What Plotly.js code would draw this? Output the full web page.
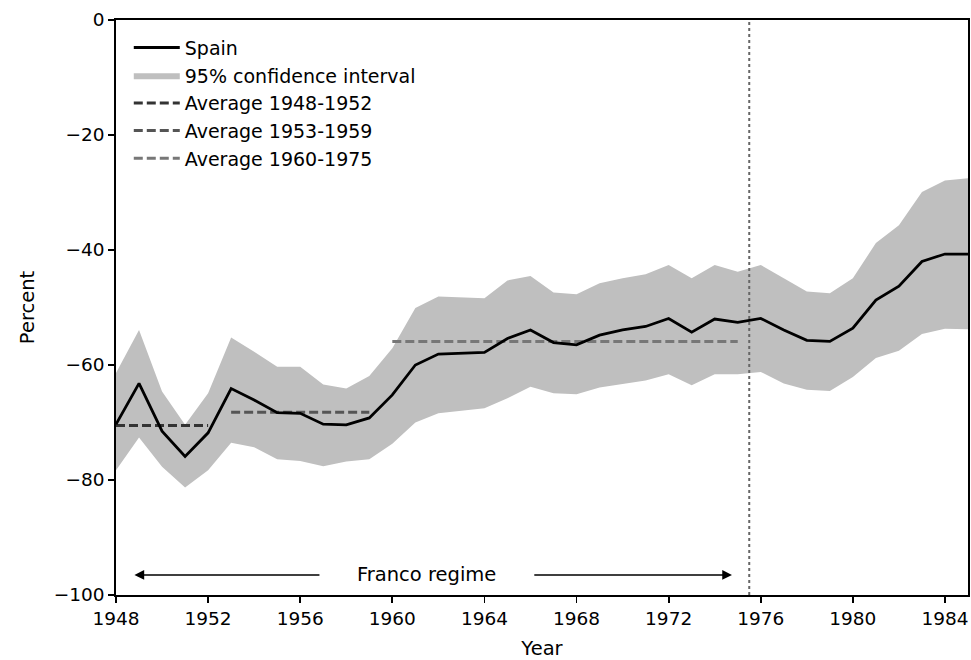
<!DOCTYPE html>
<html>
<head>
<meta charset="utf-8">
<script src="https://cdn.plot.ly/plotly-3.0.1.min.js"></script>
<style>html,body{margin:0;padding:0;background:#fff;}#chart{width:971px;height:660px;}</style>
</head>
<body>
<div id="chart"></div>
<script>
const years = [1948,1949,1950,1951,1952,1953,1954,1955,1956,1957,1958,1959,1960,1961,1962,1963,1964,1965,1966,1967,1968,1969,1970,1971,1972,1973,1974,1975,1976,1977,1978,1979,1980,1981,1982,1983,1984,1985];
const spain = [-70.3,-63.2,-71.5,-75.9,-71.8,-64.1,-66.1,-68.3,-68.4,-70.3,-70.4,-69.2,-65.2,-60.0,-58.1,-58.0,-57.8,-55.4,-53.9,-56.1,-56.5,-54.8,-53.9,-53.3,-51.9,-54.3,-52.0,-52.6,-51.9,-53.9,-55.7,-55.9,-53.6,-48.7,-46.3,-42.0,-40.7,-40.7];
const ciUpper = [-61.4,-53.9,-64.6,-70.4,-64.9,-55.2,-57.7,-60.3,-60.3,-63.4,-64.1,-61.9,-57.1,-50.1,-48.1,-48.2,-48.4,-45.3,-44.5,-47.4,-47.7,-45.8,-44.9,-44.2,-42.6,-44.9,-42.6,-43.8,-42.6,-44.9,-47.2,-47.5,-44.9,-38.8,-35.7,-29.9,-27.9,-27.5];
const ciLower = [-78.3,-72.6,-77.7,-81.3,-78.3,-73.5,-74.3,-76.4,-76.7,-77.6,-76.8,-76.4,-73.7,-70.0,-68.4,-67.9,-67.5,-65.8,-63.8,-64.9,-65.1,-63.9,-63.3,-62.7,-61.6,-63.5,-61.6,-61.6,-61.2,-63.2,-64.3,-64.5,-62.1,-58.8,-57.5,-54.6,-53.7,-53.8];
const avgPeriods = [[1948,1952],[1953,1959],[1960,1975]];
const avgValues = [-70.5,-68.2,-55.9];
const avgLabels = ['Average 1948-1952','Average 1953-1959','Average 1960-1975'];
const avgColors = ['#333333','#555555','#777777'];
const transitionYear = 1975.5;
const francoStart = 1948.8, francoEnd = 1974.75, francoY = -96.5;
const francoLabelX = 1961.5, francoTailL = 1956.9, francoTailR = 1966.1;

const font = 'DejaVu Sans, sans-serif';
const traces = [
  {x: years, y: ciLower, mode:'lines', line:{width:0, color:'rgba(0,0,0,0)'}, showlegend:false, hoverinfo:'skip'},
  {x: years, y: ciUpper, mode:'lines', fill:'tonexty', fillcolor:'#bfbfbf', line:{width:0, color:'#bfbfbf'}, name:'95% confidence interval', legendgroup:'b', legendrank:2},
];
avgPeriods.forEach((p,i)=>{
  traces.push({x:p, y:[avgValues[i],avgValues[i]], mode:'lines', line:{color:avgColors[i], width:3, dash:'9px,4px'}, name:avgLabels[i], legendgroup:'c'+i, legendrank:3+i});
});
traces.push({x: years, y: spain, mode:'lines', line:{color:'#000', width:2.8}, name:'Spain', legendgroup:'a', legendrank:1});

const layout = {
  width:971, height:660,
  margin:{l:116, r:3, t:20, b:65},
  paper_bgcolor:'#fff', plot_bgcolor:'#fff',
  font:{family:font, size:18, color:'#000'},
  showlegend:true,
  legend:{x:0.015, y:0.985, xanchor:'left', yanchor:'top', bgcolor:'rgba(255,255,255,0)', font:{family:font, size:19}, tracegroupgap:2.5, itemwidth:46, traceorder:'normal'},
  xaxis:{range:[1948,1985], tickvals:[1948,1952,1956,1960,1964,1968,1972,1976,1980,1984], showgrid:false, zeroline:false, showline:true, linecolor:'#000', linewidth:1.8, mirror:true, ticks:'outside', ticklen:6, tickwidth:1.8, tickcolor:'#000', tickfont:{size:18.5}, title:{text:'Year', font:{size:19.5}, standoff:15}},
  yaxis:{range:[-100,0], dtick:20, showgrid:false, zeroline:false, showline:true, linecolor:'#000', linewidth:1.8, mirror:true, ticks:'outside', ticklen:6, tickwidth:1.8, tickcolor:'#000', tickfont:{size:18.5}, title:{text:'Percent', font:{size:19.5}, standoff:14}},
  shapes:[
    {type:'line', xref:'x', yref:'paper', x0:transitionYear, x1:transitionYear, y0:0, y1:1, line:{color:'#666', width:2, dash:'dot'}}
  ],
  annotations:[
    {x:francoStart, y:francoY, ax:francoTailL, ay:francoY, xref:'x', yref:'y', axref:'x', ayref:'y', text:'', showarrow:true, arrowhead:2, arrowsize:1.3, arrowwidth:1.5, arrowcolor:'#000'},
    {x:francoEnd, y:francoY, ax:francoTailR, ay:francoY, xref:'x', yref:'y', axref:'x', ayref:'y', text:'', showarrow:true, arrowhead:2, arrowsize:1.3, arrowwidth:1.5, arrowcolor:'#000'},
    {x:francoLabelX, y:francoY, xref:'x', yref:'y', text:'Franco regime', showarrow:false, font:{size:19.5, family:font}}
  ]
};
Plotly.newPlot('chart', traces, layout, {staticPlot:true});
</script>
</body>
</html>
